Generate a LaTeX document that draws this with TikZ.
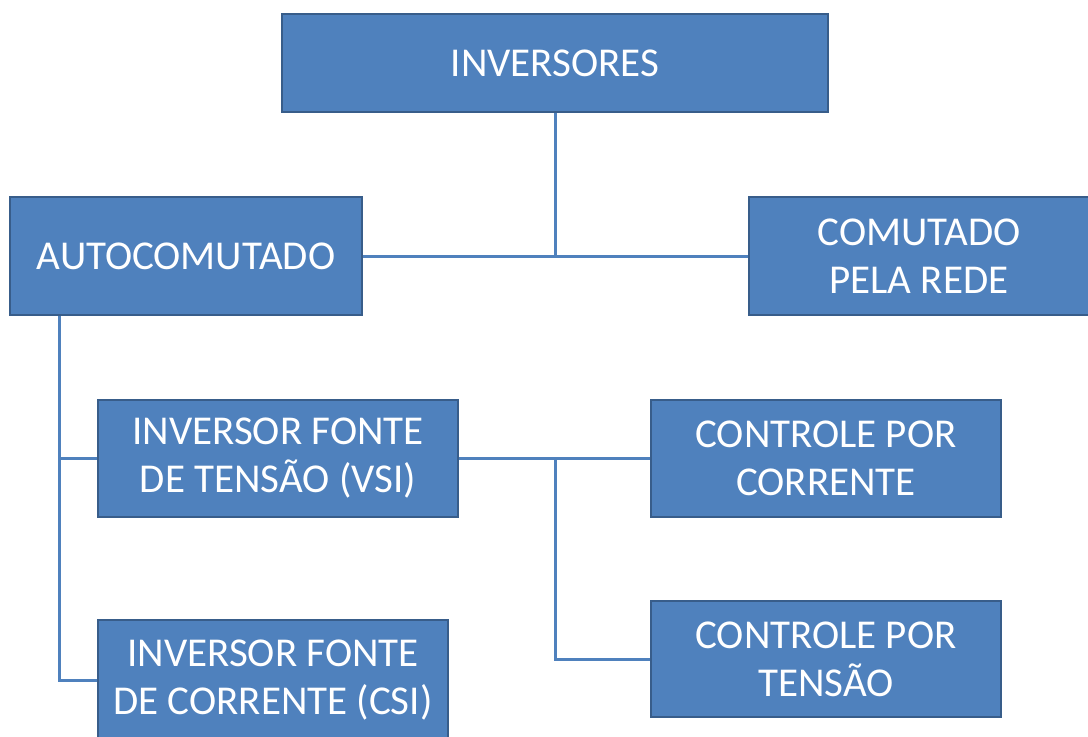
\documentclass[tikz,border=0pt]{standalone}
\usepackage{fontspec}
\setmainfont{Carlito}
\usetikzlibrary{calc,positioning}
\definecolor{boxblue}{RGB}{79,129,189}
\definecolor{edgeblue}{RGB}{56,93,138}

\begin{document}
\begin{tikzpicture}[x=0.5pt, y=-0.5pt,
    caixa/.style={draw=edgeblue, line width=1pt, fill=boxblue, text=white,
        align=center, inner sep=0pt, font=\fontsize{20.5}{24}\selectfont},
    ligacao/.style={draw=boxblue, line width=1.5pt}]
    \useasboundingbox (0,0) rectangle (1088,736);

    % caixas
    \node[caixa, minimum width=273pt, minimum height=49pt] (inv) at (555,63) {INVERSORES};
    \node[caixa, minimum width=176pt, minimum height=59pt] (auto) at (186,256) {AUTOCOMUTADO};
    \node[caixa, minimum width=170pt, minimum height=59pt] (rede) at (919,256) {COMUTADO\\PELA REDE};
    \node[caixa, minimum width=180pt, minimum height=58.5pt] (vsi) at (278,458) {INVERSOR FONTE\\DE TENSÃO (VSI)};
    \node[caixa, minimum width=175pt, minimum height=58.5pt] (corr) at (826,458) {CONTROLE POR\\CORRENTE};
    \node[caixa, minimum width=175pt, minimum height=60pt] (csi) at (273,680) {INVERSOR FONTE\\DE CORRENTE (CSI)};
    \node[caixa, minimum width=175pt, minimum height=58pt] (tens) at (826,659) {CONTROLE POR\\TENSÃO};

    % ligacoes
    \coordinate (topo) at (inv.south |- auto.east);
    \coordinate (tronco) at ($(auto.south west)+(50,0)$);
    \coordinate (meio) at (inv.south |- vsi.east);
    \draw[ligacao] (inv.south) -- (topo);
    \draw[ligacao] (auto.east) -- (rede.west);
    \draw[ligacao] (tronco) |- (csi.west);
    \draw[ligacao] (tronco) |- (vsi.west);
    \draw[ligacao] (vsi.east) -- (corr.west);
    \draw[ligacao] (meio) |- (tens.west);
\end{tikzpicture}
\end{document}
